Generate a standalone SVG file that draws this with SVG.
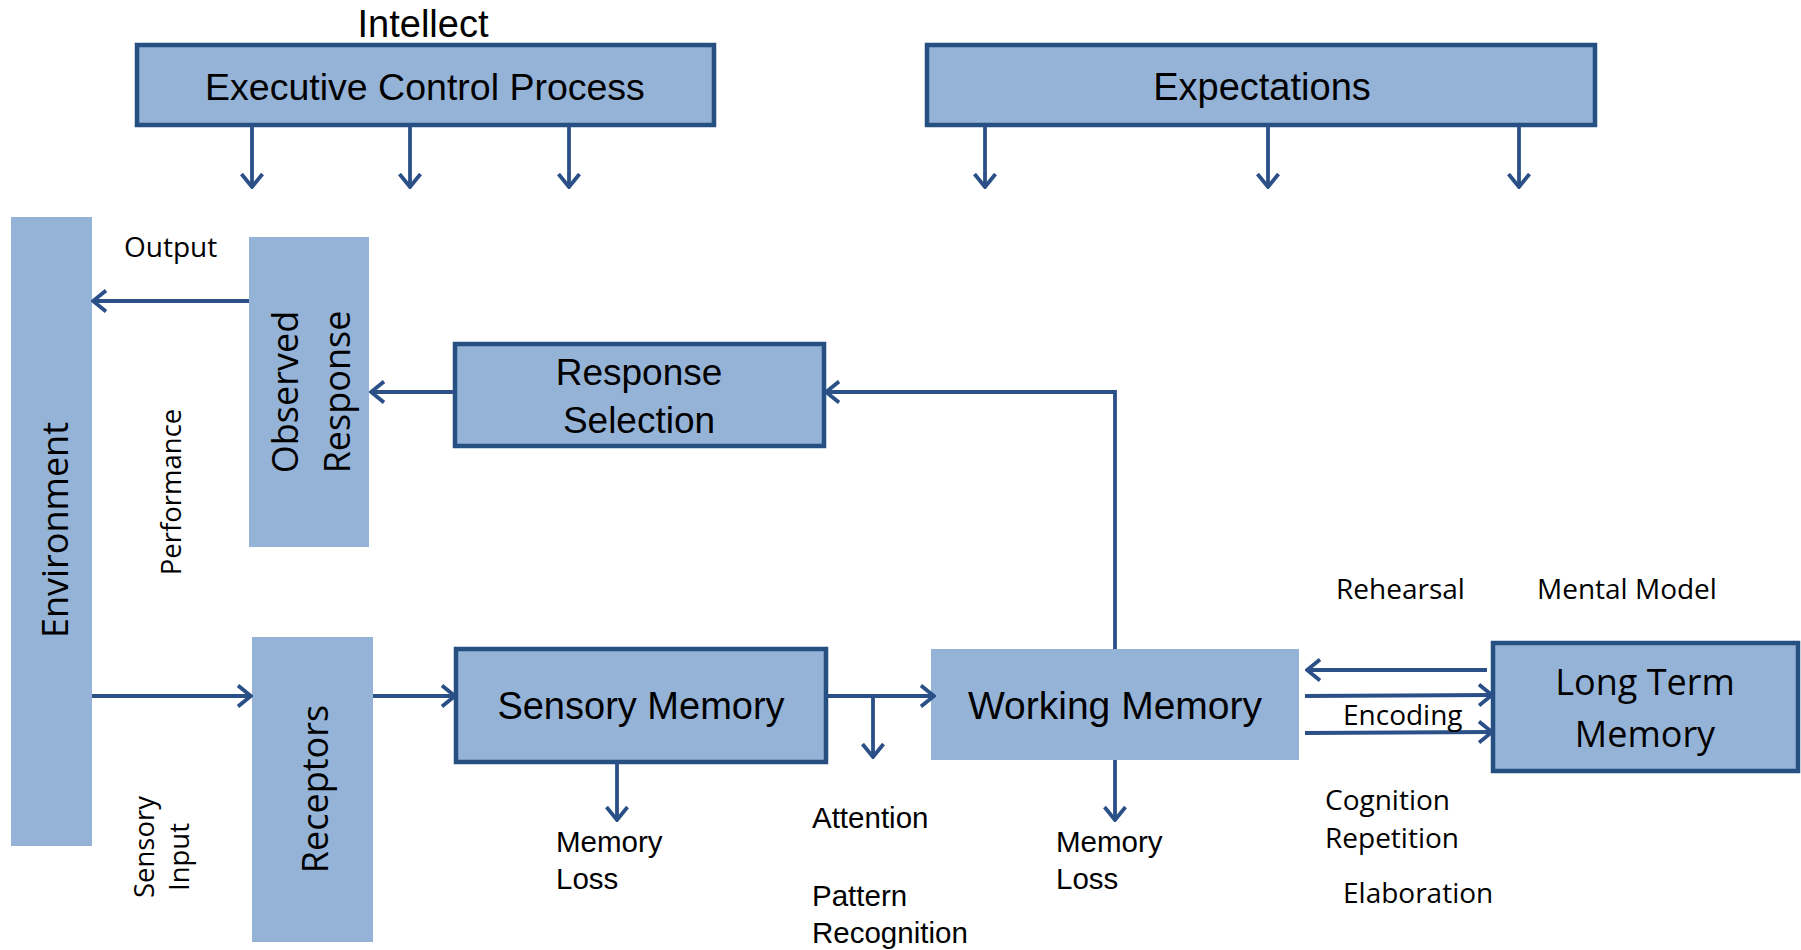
<svg xmlns="http://www.w3.org/2000/svg" width="1801" height="950" viewBox="0 0 1801 950">
<style>
.box{fill:#95B3D7;stroke:#264F82;stroke-width:4.5}
.plain{fill:#95B3D7}
.cal{font-family:"Liberation Sans",Arial,sans-serif;fill:#000}
.seg{font-family:"Open Sans","Noto Sans",sans-serif;fill:#000}
.c{text-anchor:middle}
.ln{fill:none;stroke:#2B5088;stroke-width:3.8}
</style>
<defs>
<marker id="ah" markerUnits="userSpaceOnUse" markerWidth="16" markerHeight="24" viewBox="0 0 16 24" refX="14" refY="12" orient="auto">
<path d="M1,1.5 L14,12 L1,22.5" fill="none" stroke="#2B5088" stroke-width="3.8"/>
</marker>
</defs>
<rect width="1801" height="950" fill="#fff"/>

<g id="intellect"><text class="cal c" x="423" y="37" font-size="38">Intellect</text></g>
<g id="executive">
<rect class="box" x="137" y="45" width="577" height="80"/>
<text class="cal c" x="425" y="100" font-size="37.5">Executive Control Process</text>
</g>
<g id="expectations">
<rect class="box" x="927" y="45" width="668" height="80"/>
<text class="cal c" x="1262" y="100" font-size="38">Expectations</text>
</g>
<g id="environment">
<rect class="plain" x="11" y="217" width="81" height="629"/>
<text class="seg c" font-size="36" transform="translate(68,530) rotate(-90)">Environment</text>
</g>
<g id="observed-response">
<rect class="plain" x="249" y="237" width="120" height="310"/>
<text class="seg c" font-size="36" transform="translate(298,392) rotate(-90)">Observed</text>
<text class="seg c" font-size="36" transform="translate(350,392) rotate(-90)">Response</text>
</g>
<g id="response-selection">
<rect class="box" x="455" y="344" width="369" height="102"/>
<text class="cal c" x="639" y="385" font-size="37">Response</text>
<text class="cal c" x="639" y="433" font-size="37">Selection</text>
</g>
<g id="receptors">
<rect class="plain" x="252" y="637" width="121" height="305"/>
<text class="seg c" font-size="36" transform="translate(328,789) rotate(-90)">Receptors</text>
</g>
<g id="sensory-memory">
<rect class="box" x="456" y="649" width="370" height="113"/>
<text class="cal c" x="641" y="719" font-size="38">Sensory Memory</text>
</g>
<g id="working-memory">
<rect class="plain" x="931" y="649" width="368" height="111"/>
<text class="cal c" x="1115" y="719" font-size="39">Working Memory</text>
</g>
<g id="long-term-memory">
<rect class="box" x="1493" y="643" width="305" height="128"/>
<text class="seg c" x="1645" y="695" font-size="36">Long Term</text>
<text class="seg c" x="1645" y="747" font-size="36">Memory</text>
</g>

<g id="connectors">
<line class="ln" x1="252" y1="125" x2="252" y2="187" marker-end="url(#ah)"/>
<line class="ln" x1="410" y1="125" x2="410" y2="187" marker-end="url(#ah)"/>
<line class="ln" x1="569" y1="125" x2="569" y2="187" marker-end="url(#ah)"/>
<line class="ln" x1="985" y1="125" x2="985" y2="187" marker-end="url(#ah)"/>
<line class="ln" x1="1268" y1="125" x2="1268" y2="187" marker-end="url(#ah)"/>
<line class="ln" x1="1519" y1="125" x2="1519" y2="187" marker-end="url(#ah)"/>
<line class="ln" x1="249" y1="301" x2="93" y2="301" marker-end="url(#ah)"/>
<line class="ln" x1="455" y1="392" x2="371" y2="392" marker-end="url(#ah)"/>
<polyline class="ln" points="1115,649 1115,392 826,392" marker-end="url(#ah)"/>
<line class="ln" x1="92" y1="696" x2="251" y2="696" marker-end="url(#ah)"/>
<line class="ln" x1="373" y1="696" x2="455" y2="696" marker-end="url(#ah)"/>
<line class="ln" x1="826" y1="696" x2="934" y2="696" marker-end="url(#ah)"/>
<line class="ln" x1="873" y1="696" x2="873" y2="757" marker-end="url(#ah)"/>
<line class="ln" x1="617" y1="762" x2="617" y2="820" marker-end="url(#ah)"/>
<line class="ln" x1="1115" y1="760" x2="1115" y2="820" marker-end="url(#ah)"/>
<line class="ln" x1="1487" y1="670" x2="1307" y2="670" marker-end="url(#ah)"/>
<line class="ln" x1="1305" y1="696" x2="1492" y2="695" marker-end="url(#ah)"/>
<line class="ln" x1="1305" y1="733" x2="1492" y2="732" marker-end="url(#ah)"/>
</g>

<g id="labels">
<text class="seg" x="124" y="257" font-size="28">Output</text>
<text class="seg c" font-size="27.5" transform="translate(181,492) rotate(-90)">Performance</text>
<text class="seg c" font-size="27.5" transform="translate(154,847) rotate(-90)">Sensory</text>
<text class="seg c" font-size="27.5" transform="translate(189,857) rotate(-90)">Input</text>
<text class="cal" x="556" y="852" font-size="29.5">Memory</text>
<text class="cal" x="556" y="889" font-size="29.5">Loss</text>
<text class="cal" x="812" y="828" font-size="29.5">Attention</text>
<text class="cal" x="812" y="906" font-size="29.5">Pattern</text>
<text class="cal" x="812" y="943" font-size="29.5">Recognition</text>
<text class="cal" x="1056" y="852" font-size="29.5">Memory</text>
<text class="cal" x="1056" y="889" font-size="29.5">Loss</text>
<text class="seg" x="1336" y="599" font-size="28">Rehearsal</text>
<text class="seg" x="1537" y="599" font-size="28">Mental Model</text>
<text class="seg" x="1343" y="725" font-size="28">Encoding</text>
<text class="seg" x="1325" y="810" font-size="28">Cognition</text>
<text class="seg" x="1325" y="848" font-size="28">Repetition</text>
<text class="seg" x="1343" y="903" font-size="28">Elaboration</text>
</g>
</svg>
